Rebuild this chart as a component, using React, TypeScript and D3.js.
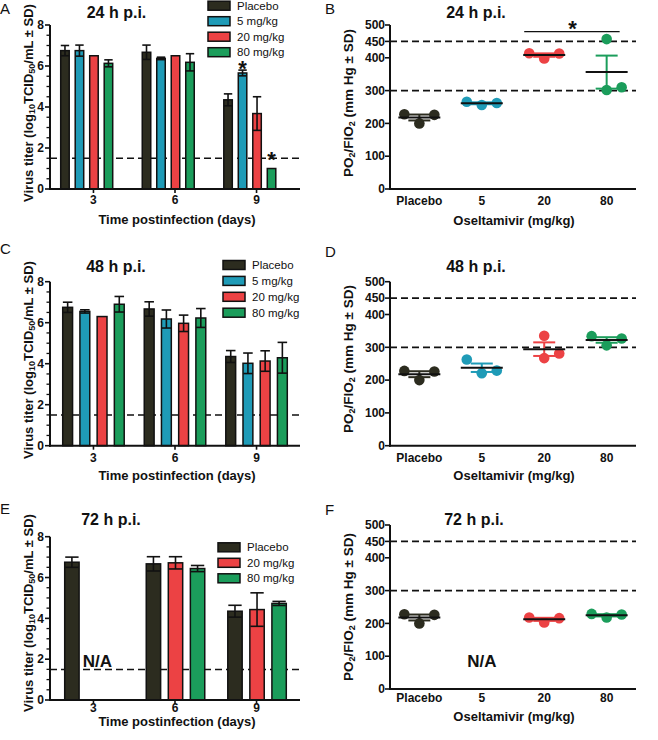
import React from 'react';
import * as d3 from 'd3';

const FONT = "'Liberation Sans', Arial, Helvetica, sans-serif";

// ---------- shared categories ----------
const days = [3, 6, 9];
const seriesNames = ['Placebo', '5 mg/kg', '20 mg/kg', '80 mg/kg'];
const seriesColors = ['#2c2c1f', '#1f9bb7', '#ec4244', '#1b9d5b'];
const titerTicks = [0, 2, 4, 6, 8];
const pfTicks = [0, 100, 200, 300, 400, 450, 500];
const doseCats = ['Placebo', '5', '20', '80'];

// ---------- virus titer (log10 TCID50/mL), mean and SD per day ----------
const placeboTiter = [6.75, 6.67, 4.35];
const placeboTiterSD = [0.25, 0.35, 0.29];

const titer24_5 = [6.75, 6.37, 5.66];
const titer24_5SD = [0.27, 0.06, 0.14];
const titer24_20 = [6.5, 6.5, 3.68];
const titer24_20SD = [0, 0, 0.82];
const titer24_80 = [6.13, 6.18, 1.0];
const titer24_80SD = [0.17, 0.42, 0];

const titer48_5 = [6.55, 6.18, 4.02];
const titer48_5SD = [0.08, 0.44, 0.5];
const titer48_20 = [6.3, 5.97, 4.13];
const titer48_20SD = [0, 0.4, 0.5];
const titer48_80 = [6.9, 6.23, 4.29];
const titer48_80SD = [0.38, 0.46, 0.75];

const titer72_20 = [null, 6.72, 4.43];
const titer72_20SD = [0, 0.3, 0.82];
const titer72_80 = [null, 6.44, 4.73];
const titer72_80SD = [0, 0.15, 0.1];

const detectionLimit = 1.5;

// ---------- PO2/FIO2 individual animals ----------
const pfPlacebo = [228, 200, 226];
const pf24_5 = [266, 256, 262];
const pf24_20 = [414, 398, 413];
const pf24_80 = [457, 302, 310];
const pf48_5 = [263, 221, 229];
const pf48_20 = [335, 267, 281];
const pf48_80 = [334, 306, 327];
const pf72_20 = [218, 203, 216];
const pf72_80 = [229, 218, 227];
const pfRefLines = [300, 450];

type BarSeries = { name: string; color: string; values: (number | null)[]; sd: number[] };

function mk(name: string, values: (number | null)[], sd: number[]): BarSeries {
  const i = seriesNames.indexOf(name);
  return { name, color: seriesColors[i], values, sd };
}

const seriesA: BarSeries[] = [
  mk('Placebo', placeboTiter, placeboTiterSD),
  mk('5 mg/kg', titer24_5, titer24_5SD),
  mk('20 mg/kg', titer24_20, titer24_20SD),
  mk('80 mg/kg', titer24_80, titer24_80SD),
];
const seriesC: BarSeries[] = [
  mk('Placebo', placeboTiter, placeboTiterSD),
  mk('5 mg/kg', titer48_5, titer48_5SD),
  mk('20 mg/kg', titer48_20, titer48_20SD),
  mk('80 mg/kg', titer48_80, titer48_80SD),
];
const seriesE: BarSeries[] = [
  mk('Placebo', placeboTiter, placeboTiterSD),
  mk('20 mg/kg', titer72_20, titer72_20SD),
  mk('80 mg/kg', titer72_80, titer72_80SD),
];

const starsA = [
  { day: 9, series: '5 mg/kg', level: 6.1 },
  { day: 9, series: '80 mg/kg', level: 1.66 },
];

type DotGroup = { cat: string; color: string; pts: number[] | null };
const dotsB: DotGroup[] = [
  { cat: 'Placebo', color: seriesColors[0], pts: pfPlacebo },
  { cat: '5', color: seriesColors[1], pts: pf24_5 },
  { cat: '20', color: seriesColors[2], pts: pf24_20 },
  { cat: '80', color: seriesColors[3], pts: pf24_80 },
];
const dotsD: DotGroup[] = [
  { cat: 'Placebo', color: seriesColors[0], pts: pfPlacebo },
  { cat: '5', color: seriesColors[1], pts: pf48_5 },
  { cat: '20', color: seriesColors[2], pts: pf48_20 },
  { cat: '80', color: seriesColors[3], pts: pf48_80 },
];
const dotsF: DotGroup[] = [
  { cat: 'Placebo', color: seriesColors[0], pts: pfPlacebo },
  { cat: '5', color: seriesColors[1], pts: null },
  { cat: '20', color: seriesColors[2], pts: pf72_20 },
  { cat: '80', color: seriesColors[3], pts: pf72_80 },
];

// ---------- components ----------
function TiterYTitle({ x, y }: { x: number; y: number }) {
  return (
    <text transform={`translate(${x},${y}) rotate(-90)`} textAnchor="middle" dominantBaseline="central"
      fontFamily={FONT} fontWeight="bold" fontSize={13} fill="#111">
      Virus titer (log<tspan dy={3.5} fontSize={9}>10</tspan><tspan dy={-3.5}>TCID</tspan>
      <tspan dy={3.5} fontSize={9}>50</tspan><tspan dy={-3.5}>/mL ± SD)</tspan>
    </text>
  );
}

function PfYTitle({ x, y }: { x: number; y: number }) {
  return (
    <text transform={`translate(${x},${y}) rotate(-90)`} textAnchor="middle" dominantBaseline="central"
      fontFamily={FONT} fontWeight="bold" fontSize={13.5} fill="#111">
      PO<tspan dy={3.5} fontSize={9}>2</tspan><tspan dy={-3.5}>/FIO</tspan>
      <tspan dy={3.5} fontSize={9}>2</tspan><tspan dy={-3.5}> (mm Hg ± SD)</tspan>
    </text>
  );
}

type BarLayout = {
  left: number; right: number; yTop: number; yBottom: number;
  group: [number, number]; pad: number;
  legendX: number; legendY: number; legendStep: number;
  titleX: number; titleY: number; title: string;
  letter: string; letterX: number; letterY: number;
  tickDy: number; xTitleDy: number; yTitleY: number;
};

function BarPanel({ L, series, stars, na }: { L: BarLayout; series: BarSeries[]; stars?: typeof starsA; na?: { day: number; level: number } }) {
  const y = d3.scaleLinear().domain([0, 8]).range([L.yBottom, L.yTop]);
  const xDay = d3.scalePoint<number>().domain(days).range([L.left, L.right]).padding(0.533);
  const xs = d3.scaleBand<string>().domain(series.map(s => s.name)).range(L.group).paddingInner(L.pad).paddingOuter(0);
  const bw = xs.bandwidth();
  const minor = d3.range(0, 8.01, 0.5).filter(v => v % 2 !== 0);
  return (
    <g fontFamily={FONT}>
      <text x={L.letterX} y={L.letterY} fontSize={15} fill="#111">{L.letter}</text>
      <text x={L.titleX} y={L.titleY} textAnchor="middle" fontSize={16} fontWeight="bold" fill="#111">{L.title}</text>
      <line x1={L.left} x2={L.right} y1={y(detectionLimit)} y2={y(detectionLimit)} stroke="#111" strokeWidth={1.5} strokeDasharray="7,4" />
      {series.map(s => (
        <g key={s.name}>
          {days.map((d, i) => {
            const v = s.values[i];
            if (v == null) return null;
            const x = (xDay(d) as number) + (xs(s.name) as number);
            const sd = s.sd[i];
            const cx = x + bw / 2;
            const cw = bw * 0.42;
            return (
              <g key={d}>
                <rect x={x + 0.75} y={y(v)} width={bw - 1.5} height={y(0) - y(v)} fill={s.color} stroke="#111" strokeWidth={1.5} />
                {sd > 0 && (
                  <g stroke="#111" strokeWidth={1.6}>
                    <line x1={cx} x2={cx} y1={y(v - sd)} y2={y(v + sd)} />
                    <line x1={cx - cw} x2={cx + cw} y1={y(v + sd)} y2={y(v + sd)} />
                    <line x1={cx - cw} x2={cx + cw} y1={y(v - sd)} y2={y(v - sd)} />
                  </g>
                )}
              </g>
            );
          })}
        </g>
      ))}
      {stars && stars.map((st, k) => {
        const x = (xDay(st.day) as number) + (xs(st.series) as number) + bw / 2;
        return <text key={k} x={x} y={y(st.level) + 12} textAnchor="middle" fontSize={22} fontWeight="bold" fill="#111">*</text>;
      })}
      {na && (
        <text x={(xDay(na.day) as number) + 4} y={y(na.level)} textAnchor="middle" fontSize={17} fontWeight="bold" fill="#111">N/A</text>
      )}
      <line x1={L.left} x2={L.left} y1={y(0) + 1} y2={y(8)} stroke="#111" strokeWidth={2} />
      <line x1={L.left - 1} x2={L.right} y1={y(0)} y2={y(0)} stroke="#111" strokeWidth={2} />
      {titerTicks.map(t => (
        <g key={t}>
          <line x1={L.left - 5} x2={L.left} y1={y(t)} y2={y(t)} stroke="#111" strokeWidth={1.6} />
          <text x={L.left - 6} y={y(t)} dy="0.35em" textAnchor="end" fontSize={12} fontWeight="bold" fill="#111">{t}</text>
        </g>
      ))}
      {minor.map(t => (
        <line key={t} x1={L.left - 3.5} x2={L.left} y1={y(t)} y2={y(t)} stroke="#111" strokeWidth={1.3} />
      ))}
      {days.map(d => (
        <g key={d}>
          <line x1={xDay(d)} x2={xDay(d)} y1={y(0)} y2={y(0) + 4} stroke="#111" strokeWidth={1.6} />
          <text x={xDay(d)} y={y(0) + L.tickDy} textAnchor="middle" fontSize={12} fontWeight="bold" fill="#111">{d}</text>
        </g>
      ))}
      <text x={(L.left + L.right) / 2 + 2} y={y(0) + L.xTitleDy} textAnchor="middle" fontSize={13} fontWeight="bold" fill="#111">Time postinfection (days)</text>
      <TiterYTitle x={28} y={L.yTitleY} />
      {series.map((s, i) => (
        <g key={s.name}>
          <rect x={L.legendX} y={L.legendY + i * L.legendStep - 4.5} width={22} height={9} fill={s.color} stroke="#111" strokeWidth={1.5} />
          <text x={L.legendX + 29} y={L.legendY + i * L.legendStep} dy="0.35em" fontSize={11.5} fill="#111">{s.name}</text>
        </g>
      ))}
    </g>
  );
}

type DotLayout = {
  left: number; right: number; yTop: number; yBottom: number;
  titleX: number; titleY: number; title: string;
  letter: string; letterX: number; letterY: number;
  tickDy: number; xTitleDy: number; yTitleY: number;
};

function swarm(vals: number[], y: (v: number) => number, thresh: number) {
  const order = vals.map((v, i) => i).sort((a, b) => vals[a] - vals[b]);
  const slots: number[] = new Array(vals.length).fill(0);
  const placed: number[] = [];
  const cand = [0, 1, -1, 2, -2];
  order.forEach(i => {
    for (const c of cand) {
      const clash = placed.some(j => slots[j] === c && Math.abs(y(vals[j]) - y(vals[i])) < thresh);
      if (!clash) { slots[i] = c; break; }
    }
    placed.push(i);
  });
  return slots;
}

function DotPanel({ L, groups, sig, na }: { L: DotLayout; groups: DotGroup[]; sig?: { from: string; to: string; level: number }; na?: { cat: string; level: number } }) {
  const y = d3.scaleLinear().domain([0, 500]).range([L.yBottom, L.yTop]);
  const x = d3.scalePoint<string>().domain(doseCats).range([L.left, L.right]).padding(0.47);
  const r = 5.3;
  return (
    <g fontFamily={FONT}>
      <text x={L.letterX} y={L.letterY} fontSize={15} fill="#111">{L.letter}</text>
      <text x={L.titleX} y={L.titleY} textAnchor="middle" fontSize={16} fontWeight="bold" fill="#111">{L.title}</text>
      {pfRefLines.map(v => (
        <line key={v} x1={L.left} x2={L.right} y1={y(v)} y2={y(v)} stroke="#111" strokeWidth={1.8} strokeDasharray="7,4" />
      ))}
      {groups.map(g => {
        if (!g.pts) return null;
        const cx = x(g.cat) as number;
        const slots = swarm(g.pts, y, 15);
        const m = d3.mean(g.pts) as number;
        const sem = (d3.deviation(g.pts) as number) / Math.sqrt(g.pts.length);
        return (
          <g key={g.cat}>
            {g.pts.map((v, i) => (
              <circle key={i} cx={cx + slots[i] * 15} cy={y(v)} r={r} fill={g.color} />
            ))}
            <g stroke={g.color} strokeWidth={2}>
              <line x1={cx} x2={cx} y1={y(m - sem)} y2={y(m + sem)} />
              <line x1={cx - 11} x2={cx + 11} y1={y(m + sem)} y2={y(m + sem)} />
              <line x1={cx - 11} x2={cx + 11} y1={y(m - sem)} y2={y(m - sem)} />
            </g>
            <line x1={cx - 21} x2={cx + 21} y1={y(m)} y2={y(m)} stroke="#111" strokeWidth={2} />
          </g>
        );
      })}
      {sig && (
        <g>
          <line x1={(x(sig.from) as number) - 20} x2={(x(sig.to) as number) + 13} y1={y(sig.level)} y2={y(sig.level)} stroke="#111" strokeWidth={1.2} />
          <text x={((x(sig.from) as number) + (x(sig.to) as number)) / 2 - 3} y={y(sig.level) + 4.5} textAnchor="middle" fontSize={22} fontWeight="bold" fill="#111">*</text>
        </g>
      )}
      {na && (
        <text x={x(na.cat)} y={y(na.level)} textAnchor="middle" fontSize={17} fontWeight="bold" fill="#111">N/A</text>
      )}
      <line x1={L.left} x2={L.left} y1={y(0) + 1} y2={y(500)} stroke="#111" strokeWidth={2} />
      <line x1={L.left - 1} x2={L.right} y1={y(0)} y2={y(0)} stroke="#111" strokeWidth={2} />
      {pfTicks.map(t => (
        <g key={t}>
          <line x1={L.left - 5} x2={L.left} y1={y(t)} y2={y(t)} stroke="#111" strokeWidth={1.6} />
          <text x={L.left - 5} y={y(t)} dy="0.35em" textAnchor="end" fontSize={12} fontWeight="bold" fill="#111">{t}</text>
        </g>
      ))}
      {doseCats.map(c => (
        <text key={c} x={x(c)} y={y(0) + L.tickDy} textAnchor="middle" fontSize={12} fontWeight="bold" fill="#111">{c}</text>
      ))}
      <text x={(L.left + L.right) / 2 + 1} y={y(0) + L.xTitleDy} textAnchor="middle" fontSize={13} fontWeight="bold" fill="#111">Oseltamivir (mg/kg)</text>
      <PfYTitle x={348} y={L.yTitleY} />
    </g>
  );
}

const layoutA: BarLayout = {
  left: 50, right: 300, yTop: 25, yBottom: 189, group: [-33.5, 20], pad: 0.31,
  legendX: 208, legendY: 5.7, legendStep: 15.5, titleX: 116.5, titleY: 18, title: '24 h p.i.',
  letter: 'A', letterX: 0, letterY: 14, tickDy: 15, xTitleDy: 35, yTitleY: 103,
};
const layoutC: BarLayout = {
  left: 50, right: 300, yTop: 281.7, yBottom: 445.7, group: [-31.5, 31.5], pad: 0.34,
  legendX: 223, legendY: 265, legendStep: 15.9, titleX: 116, titleY: 272, title: '48 h p.i.',
  letter: 'C', letterX: 0, letterY: 254, tickDy: 16, xTitleDy: 34, yTitleY: 360,
};
const layoutE: BarLayout = {
  left: 50, right: 300, yTop: 536.7, yBottom: 700, group: [-29.5, 30.5], pad: 0.28,
  legendX: 218, legendY: 547.3, legendStep: 15.5, titleX: 111, titleY: 525, title: '72 h p.i.',
  letter: 'E', letterX: 0, letterY: 514, tickDy: 11.5, xTitleDy: 26, yTitleY: 613,
};
const layoutB: DotLayout = {
  left: 390, right: 636, yTop: 25, yBottom: 189, titleX: 476, titleY: 18, title: '24 h p.i.',
  letter: 'B', letterX: 325, letterY: 14, tickDy: 16, xTitleDy: 36, yTitleY: 103,
};
const layoutD: DotLayout = {
  left: 390, right: 636, yTop: 281.7, yBottom: 445.7, titleX: 476, titleY: 272, title: '48 h p.i.',
  letter: 'D', letterX: 325, letterY: 257, tickDy: 16, xTitleDy: 34, yTitleY: 359,
};
const layoutF: DotLayout = {
  left: 390, right: 636, yTop: 525, yBottom: 689, titleX: 474, titleY: 525, title: '72 h p.i.',
  letter: 'F', letterX: 325, letterY: 515, tickDy: 13, xTitleDy: 32, yTitleY: 607,
};

export default function App() {
  return (
    <svg width={658} height={740} viewBox="0 0 658 740"
      style={{ position: 'absolute', left: 0, top: 0, background: '#fff', display: 'block' }}>
      <rect width={658} height={740} fill="#fff" />
      <BarPanel L={layoutA} series={seriesA} stars={starsA} />
      <BarPanel L={layoutC} series={seriesC} />
      <BarPanel L={layoutE} series={seriesE} na={{ day: 3, level: 1.62 }} />
      <DotPanel L={layoutB} groups={dotsB} sig={{ from: '20', to: '80', level: 480 }} />
      <DotPanel L={layoutD} groups={dotsD} />
      <DotPanel L={layoutF} groups={dotsF} na={{ cat: '5', level: 67 }} />
    </svg>
  );
}
